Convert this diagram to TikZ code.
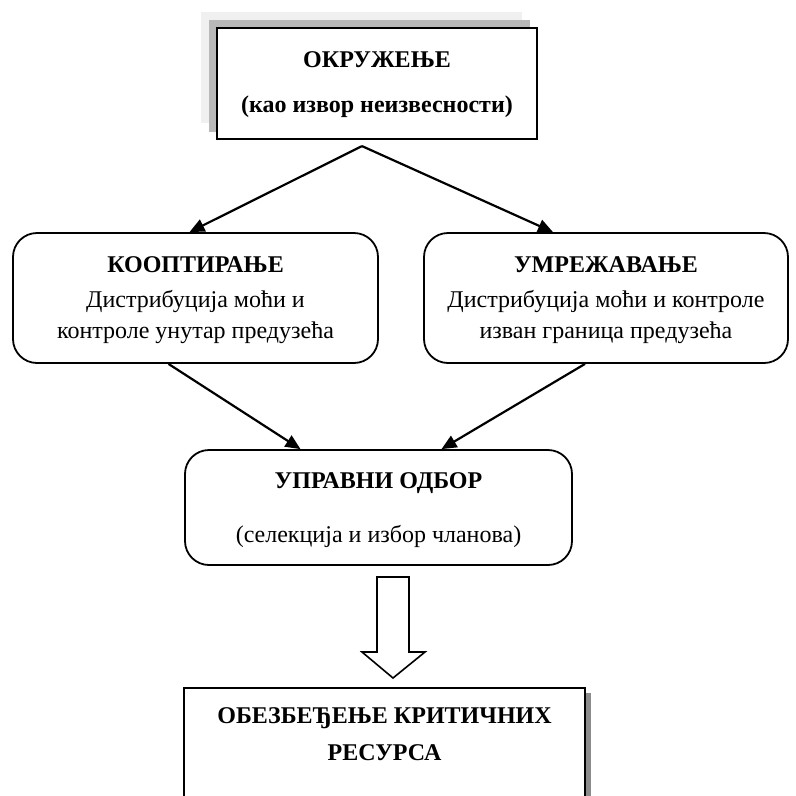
\documentclass[tikz,border=0pt]{standalone}
\usepackage{fontspec}
\setmainfont{Liberation Serif}
\usetikzlibrary{arrows.meta,calc}

\tikzset{
  plainbox/.style={draw=black, line width=2.2pt, fill=white, inner sep=0pt},
  roundbox/.style={draw=black, line width=1.8pt, fill=white, rounded corners=24pt, inner sep=0pt},
  heading/.style={font=\fontsize{24}{28}\selectfont\bfseries, anchor=base},
  bodytext/.style={font=\fontsize{24}{28}\selectfont, anchor=base},
  link/.style={line width=2.2pt, -{Triangle[length=15pt,width=13pt]}},
  blockarrow/.style={draw=black, line width=1.6pt, fill=white, line join=miter},
}

\begin{document}
\begin{tikzpicture}[x=1pt, y=-1pt]
  \useasboundingbox (0,0) rectangle (796,796);

  % layered shadow behind the top box
  \fill[gray!12] (201,12) rectangle (522,123);
  \fill[gray!55] (209,20) rectangle (530,132);
  \node[plainbox, minimum width=320pt, minimum height=111pt] (env) at (377,83.5) {};
  \node[heading] (envT) at (377,67) {ОКРУЖЕЊЕ};
  \node[heading] (envS) at (377,112) {(као извор неизвесности)};

  % the two mechanisms
  \node[roundbox, minimum width=365pt, minimum height=130pt] (coop) at (195.5,298) {};
  \node[heading] at (195.5,272) {КООПТИРАЊЕ};
  \node[bodytext] at (195.5,307) {Дистрибуција моћи и};
  \node[bodytext] at (195.5,338) {контроле унутар предузећа};

  \node[roundbox, minimum width=364pt, minimum height=130pt] (net) at (606,298) {};
  \node[heading] at (606,272) {УМРЕЖАВАЊЕ};
  \node[bodytext] at (606,307) {Дистрибуција моћи и контроле};
  \node[bodytext] at (606,338) {изван граница предузећа};

  % board of directors
  \node[roundbox, minimum width=387pt, minimum height=115pt] (board) at (378.5,507.5) {};
  \node[heading] at (378.5,488) {УПРАВНИ ОДБОР};
  \node[bodytext] at (378.5,542) {(селекција и избор чланова)};

  % resources box, running past the lower edge
  \fill[black!45] (191,693) rectangle (591,830);
  \node[plainbox, line width=1.8pt, minimum width=401pt, minimum height=140pt] (res) at (384.5,758) {};
  \node[heading] at (384.5,723) {ОБЕЗБЕЂЕЊЕ КРИТИЧНИХ};
  \node[heading] at (384.5,760) {РЕСУРСА};

  % connectors
  \coordinate (apex) at ($(env.south)+(-15,6)$);
  \draw[link] (apex) -- ($(coop.north)+(-6,0)$);
  \draw[link] (apex) -- ($(net.north)+(-53,0)$);
  \draw[link] ($(coop.south)+(-27,0)$) -- ($(board.north)+(-78,0)$);
  \draw[link] ($(net.south)+(-21,0)$) -- ($(board.north)+(63,0)$);

  % hollow block arrow from the board to the resources box
  \draw[blockarrow]
    (377,577) -- (409,577) -- (409,652) -- (425,652) -- (393,678)
    -- (362,652) -- (377,652) -- cycle;
\end{tikzpicture}
\end{document}
